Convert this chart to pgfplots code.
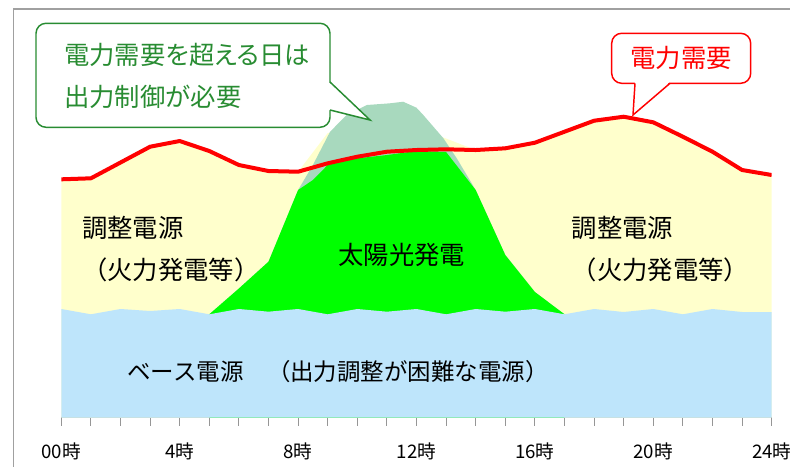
\documentclass[border=0pt]{standalone}
\usepackage{fontspec}
\setmainfont{Noto Sans CJK JP}
\newfontfamily\jpprop[RawFeature=+palt]{Noto Sans CJK JP}
\usepackage{pgfplots}
\usepackage{pgfplotstable}
\pgfplotsset{compat=1.18}

\definecolor{basecol}{RGB}{190,229,251}
\definecolor{adjcol}{RGB}{255,255,204}
\definecolor{solarcol}{RGB}{0,255,0}
\definecolor{surpluscol}{RGB}{168,217,190}
\definecolor{demandcol}{RGB}{255,0,0}
\definecolor{notegreen}{RGB}{40,140,50}
\definecolor{framegray}{RGB}{160,160,160}
\definecolor{tickgray}{RGB}{150,150,150}

% hourly values: base load, demand, top of the adjustable band
\pgfplotstableread{
h  base   demand  adjtop
0  108.7  238.4   238.4
1  103.4  239.4   239.4
2  108.7  255.2   255.2
3  106.7  271.0   271.0
4  108.7  276.7   276.7
5  103.4  266.7   266.7
6  108.7  252.7   252.7
7  106.0  246.7   246.7
8  108.7  246.0   246.0
9  103.4  254.4   284.7
10 108.7  261.0   290.0
11 106.0  266.0   290.0
12 108.7  267.7   290.0
13 103.4  268.4   279.2
14 108.7  267.7   267.7
15 106.0  269.4   269.4
16 108.7  275.0   275.0
17 103.4  286.0   286.0
18 108.7  297.0   297.0
19 105.7  301.0   301.0
20 108.7  295.4   295.4
21 103.4  281.0   281.0
22 108.7  266.0   266.0
23 105.7  247.7   247.7
24 105.7  242.7   242.7
}\hourly

% total solar output (incl. surplus)
\pgfplotstableread{
h      total
5      103.4
6      129.2
7      156.0
8      227.7
8.5    252.7
9.08   286.0
9.64   302.7
10.32  312.7
11.10  314.4
11.55  316.0
12.00  310.0
12.23  302.7
12.91  279.4
13.36  259.4
14     227.7
15     162.7
16     125.7
17     103.4
}\solartotal

% solar output that is actually used
\pgfplotstableread{
h     used
5     103.4
6     129.2
7     156.0
8     227.7
8.5   237.7
9     252.7
10    259.4
11    262.7
12    266.7
13    265.7
14    227.7
15    162.7
16    125.7
17    103.4
}\solarused

\newcommand{\lbl}{\fontsize{19}{22}\selectfont}

\begin{document}
\begin{tikzpicture}
% page area: 790 x 467 px at 0.75pt per px, axis origin at px (61.3, 417.7)
\useasboundingbox (-45.975pt,-36.975pt) rectangle (546.525pt,313.275pt);

\begin{axis}[
  at={(0,0)}, anchor=south west,
  scale only axis, width=532.8pt, height=306.5pt,
  xmin=0, xmax=24, ymin=0, ymax=408.7,
  axis x line*=bottom, axis y line=none,
  x axis line style={draw=tickgray, line width=0.75pt, -},
  xtick={0,4,...,24},
  xticklabels={\mbox{00時},\mbox{4時},\mbox{8時},\mbox{12時},\mbox{16時},\mbox{20時},\mbox{24時}},
  minor xtick={1,2,3,5,6,7,9,10,11,13,14,15,17,18,19,21,22,23},
  tick align=outside, major tick length=6pt, minor tick length=6pt,
  tick style={draw=tickgray, line width=0.75pt},
  minor tick style={draw=tickgray, line width=0.75pt},
  xticklabel style={font=\fontsize{14}{16}\selectfont, text=black, inner sep=0pt, anchor=center, yshift=-19pt},
]
\addplot[draw=none, fill=adjcol] table[x=h, y=adjtop]{\hourly} \closedcycle;
\addplot[draw=none, fill=surpluscol] table[x=h, y=total]{\solartotal} \closedcycle;
\addplot[draw=none, fill=solarcol] table[x=h, y=used]{\solarused} \closedcycle;
\addplot[draw=none, fill=basecol] table[x=h, y=base]{\hourly} \closedcycle;
\addplot[demandcol, line width=3pt, line join=round] table[x=h, y=demand]{\hourly};
\end{axis}

\begin{scope}[shift={(-45.975pt,313.275pt)}, x=0.75pt, y=-0.75pt]
  % outer frame
  \draw[framegray, line width=1.1pt] (13.5,475) -- (13.5,9) -- (800,9);

  % area labels
  \node[anchor=west, inner sep=0pt, font=\lbl] at (82,228.3) {調整電源};
  \node[anchor=west, inner sep=0pt, font=\lbl] at (82,270) {（火力発電等）};
  \node[anchor=west, inner sep=0pt, font=\lbl] at (571.5,228.3) {調整電源};
  \node[anchor=west, inner sep=0pt, font=\lbl] at (571.5,270) {（火力発電等）};
  \node[inner sep=0pt, font=\lbl] at (401.7,255) {太陽光発電};
  \node[inner sep=0pt, font=\fontsize{17.6}{21}\selectfont] at (338,371.7) {ベース電源　（出力調整が困難な電源）};

  % callout: surplus
  \filldraw[draw=notegreen, fill=white, line width=1.1pt, rounded corners=7.5pt] (36,23.3) rectangle (330,127.3);
  \fill[white] (328.5,82) -- (370,120) -- (328.5,110) -- cycle;
  \draw[notegreen, line width=1.1pt, line join=miter] (330,82) -- (370,120) -- (330,110);
  \node[anchor=west, inner sep=0pt, text=notegreen, font=\lbl\jpprop] at (64,55) {電力需要を超える日は};
  \node[anchor=west, inner sep=0pt, text=notegreen, font=\lbl] at (64,97) {出力制御が必要};

  % callout: demand
  \filldraw[draw=demandcol, fill=white, line width=1.1pt, rounded corners=7.5pt] (611.7,33.3) rectangle (750.7,83.3);
  \fill[white] (635,81.8) -- (633,115) -- (670,81.8) -- cycle;
  \draw[demandcol, line width=1.1pt, line join=miter] (635,83.3) -- (633,115) -- (670,83.3);
  \node[inner sep=0pt, text=demandcol, font=\lbl] at (681,58.3) {電力需要};
\end{scope}
\end{tikzpicture}
\end{document}
